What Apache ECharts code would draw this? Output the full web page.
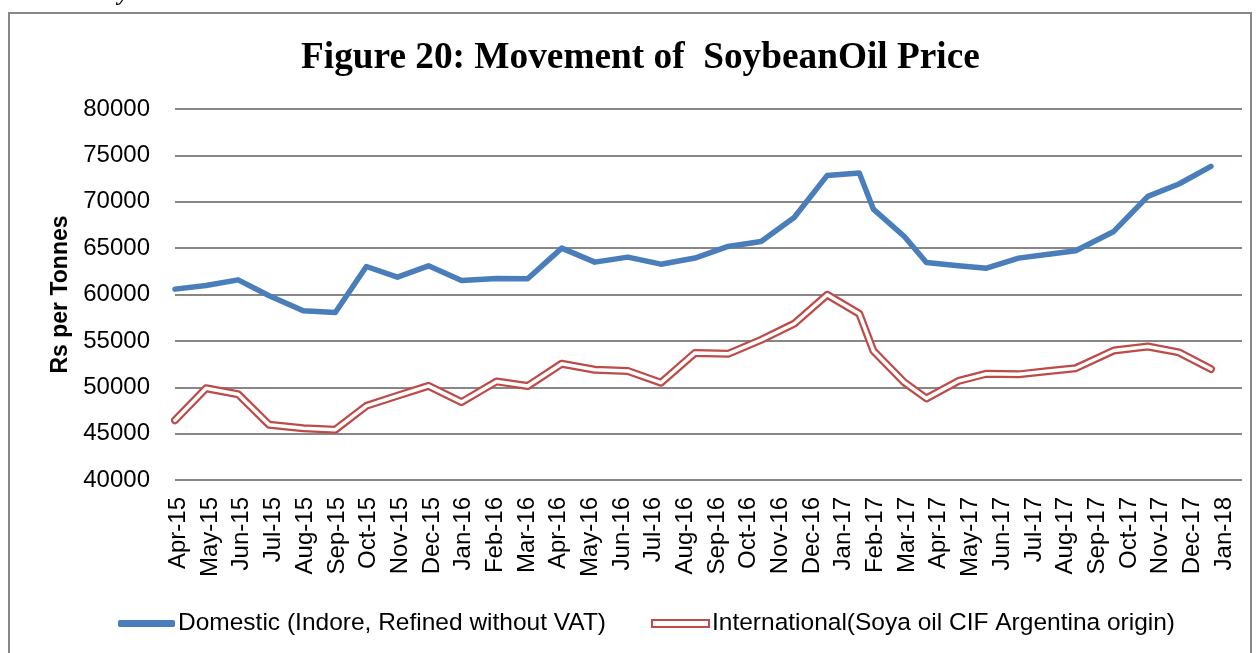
<!DOCTYPE html>
<html>
<head>
<meta charset="utf-8">
<title>Movement of SoybeanOil Price</title>
<script src="https://cdn.jsdelivr.net/npm/echarts@6/dist/echarts.min.js"></script>
<style>
  html, body { margin: 0; padding: 0; background: #fff; }
  #chart { width: 1259px; height: 653px; }
</style>
</head>
<body>
<div id="chart"></div>
<script>
  // dates of the plotted points (read from where the vertices sit on the date axis)
  var dates = ['2015-04-01', '2015-05-02', '2015-06-03', '2015-07-04', '2015-08-07', '2015-09-08',
    '2015-10-09', '2015-11-09', '2015-12-10', '2016-01-12', '2016-02-16', '2016-03-18',
    '2016-04-21', '2016-05-24', '2016-06-26', '2016-07-29', '2016-09-01', '2016-10-04',
    '2016-11-06', '2016-12-09', '2017-01-11', '2017-02-12', '2017-02-26', '2017-03-29',
    '2017-04-20', '2017-05-22', '2017-06-19', '2017-07-21', '2017-08-18', '2017-09-16',
    '2017-10-24', '2017-11-27', '2017-12-28', '2018-01-29'];

  // Rs per tonne
  var domestic = [60580, 60970, 61580, 59860, 58240, 58060, 63020, 61870, 63090, 61510, 61730, 61690,
    65000, 63490, 64030, 63270, 63930, 65180, 65720, 68310, 72840, 73090, 69210, 66260,
    63450, 63090, 62840, 63920, 64320, 64710, 66800, 70580, 71910, 73810];

  var international = [46440, 49890, 49250, 45950, 45580, 45420, 48000, 49080, 50150, 48400, 50630, 50130,
    52540, 51890, 51750, 50490, 53700, 53600, 55110, 56850, 59970, 57930, 53940, 50520,
    48800, 50680, 51460, 51390, 51730, 52050, 53960, 54390, 53760, 51960];

  // month labels under the axis
  var monthLabels = ['Apr-15', 'May-15', 'Jun-15', 'Jul-15', 'Aug-15', 'Sep-15', 'Oct-15', 'Nov-15', 'Dec-15',
    'Jan-16', 'Feb-16', 'Mar-16', 'Apr-16', 'May-16', 'Jun-16', 'Jul-16', 'Aug-16', 'Sep-16',
    'Oct-16', 'Nov-16', 'Dec-16', 'Jan-17', 'Feb-17', 'Mar-17', 'Apr-17', 'May-17', 'Jun-17',
    'Jul-17', 'Aug-17', 'Sep-17', 'Oct-17', 'Nov-17', 'Dec-17', 'Jan-18'];

  var nameDomestic = 'Domestic (Indore, Refined without VAT)';
  var nameIntl = 'International(Soya oil CIF Argentina origin)';

  var blue = '#4a7ebb';
  var red = '#be4b48';

  var myChart = echarts.init(document.getElementById('chart'));

  var option = {
    backgroundColor: '#fff',
    animation: false,
    title: {
      text: 'Figure 20: Movement of  SoybeanOil Price',
      left: 296,
      top: 35,
      textStyle: {
        fontFamily: 'Liberation Serif',
        fontWeight: 'bold',
        fontSize: 37.3,
        color: '#000'
      }
    },
    // chart frame + the cut heading of the page above it
    graphic: [
      {
        type: 'rect',
        shape: { x: 9, y: 13, width: 1242, height: 700 },
        style: { fill: 'none', stroke: '#878787', lineWidth: 2 },
        silent: true
      },
      {
        type: 'text',
        left: 93,
        top: -18,
        style: {
          text: 'Soybean Oil',
          font: 'italic bold 24px "Liberation Serif"',
          fill: '#000'
        },
        silent: true
      }
    ],
    legend: {
      left: 113,
      top: 606,
      itemWidth: 57,
      itemHeight: 7,
      itemGap: 45,
      textStyle: {
        fontFamily: 'Liberation Sans',
        fontSize: 24.5,
        color: '#000',
        padding: [0, 0, 0, -2]
      },
      data: [
        { name: nameDomestic, icon: 'roundRect', itemStyle: { color: blue } },
        { name: nameIntl, icon: 'rect', itemStyle: { color: '#fff', borderColor: red, borderWidth: 2 } }
      ]
    },
    grid: [
      // plot area: lines on a date axis
      { left: 175, right: 17, top: 109, bottom: 173, containLabel: false },
      // label strip: the month labels sit on their own even spacing
      { left: 178.5, right: 35, top: 109, bottom: 173, containLabel: false }
    ],
    xAxis: [
      {
        type: 'time',
        gridIndex: 0,
        min: new Date(2015, 3, 1).getTime(),
        max: new Date(2018, 2, 1).getTime(),
        axisLine: { show: false },
        axisTick: { show: false },
        axisLabel: { show: false },
        splitLine: { show: false }
      },
      {
        type: 'category',
        gridIndex: 1,
        data: monthLabels,
        boundaryGap: false,
        axisLine: { show: false },
        axisTick: { show: false },
        splitLine: { show: false },
        axisLabel: {
          interval: 0,
          rotate: 90,
          margin: 17,
          fontFamily: 'Liberation Sans',
          fontSize: 24,
          color: '#000'
        }
      }
    ],
    yAxis: [
      {
        type: 'value',
        gridIndex: 0,
        min: 40000,
        max: 80000,
        interval: 5000,
        name: 'Rs per Tonnes',
        nameLocation: 'middle',
        nameRotate: 90,
        nameGap: 99,
        nameTextStyle: {
          fontFamily: 'Liberation Sans',
          fontWeight: 'bold',
          fontSize: 23,
          color: '#000'
        },
        axisLine: { show: false },
        axisTick: { show: false },
        axisLabel: {
          margin: 25,
          fontFamily: 'Liberation Sans',
          fontSize: 24,
          color: '#000',
          formatter: function (v) { return String(v); }
        },
        splitLine: {
          show: true,
          lineStyle: { color: '#878787', width: 2 }
        }
      },
      {
        type: 'value',
        gridIndex: 1,
        show: false,
        min: 40000,
        max: 80000
      }
    ],
    series: [
      {
        name: nameDomestic,
        type: 'line',
        xAxisIndex: 0,
        yAxisIndex: 0,
        showSymbol: false,
        symbol: 'none',
        data: dates.map(function (d, i) { return [d, domestic[i]]; }),
        lineStyle: { color: blue, width: 5.5, cap: 'round', join: 'round' },
        itemStyle: { color: blue }
      },
      {
        name: nameIntl,
        type: 'line',
        xAxisIndex: 0,
        yAxisIndex: 0,
        showSymbol: false,
        symbol: 'none',
        data: dates.map(function (d, i) { return [d, international[i]]; }),
        lineStyle: { color: red, width: 8, cap: 'round', join: 'round' },
        itemStyle: { color: red }
      },
      {
        // white core that makes the red line a double line
        name: 'intl-core',
        type: 'line',
        xAxisIndex: 0,
        yAxisIndex: 0,
        showSymbol: false,
        symbol: 'none',
        silent: true,
        data: dates.map(function (d, i) { return [d, international[i]]; }),
        lineStyle: { color: '#fff', width: 3.5, cap: 'round', join: 'round' },
        itemStyle: { color: '#fff' }
      }
    ]
  };

  myChart.setOption(option);

  window.addEventListener('resize', function () { myChart.resize() });
</script>
</body>
</html>
